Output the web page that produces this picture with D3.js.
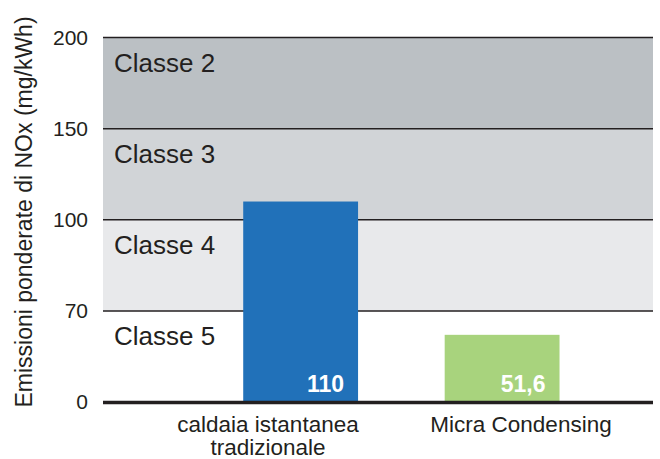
<!DOCTYPE html>
<html>
<head>
<meta charset="utf-8">
<script src="https://cdn.jsdelivr.net/npm/d3@7"></script>
<style>
  body { margin: 0; background: #fff; }
  svg { display: block; font-family: "Liberation Sans", Arial, sans-serif; }
</style>
</head>
<body>
<div id="chart"></div>
<script>
var categories = ["caldaia istantanea|tradizionale", "Micra Condensing"];
var values = [110, 51.6];
var valueLabels = ["110", "51,6"];
var yTicks = [0, 70, 100, 150, 200];
var classNames = ["Classe 5", "Classe 4", "Classe 3", "Classe 2"];
var classColors = ["#ffffff", "#e8e9eb", "#d1d4d7", "#bbc0c4"];
var barColors = ["#2171b9", "#a8d37d"];
var yTitle = "Emissioni ponderate di NOx (mg/kWh)";

var width = 660, height = 459;
var plotLeft = 103, plotRight = 653, plotBottom = 402, plotTop = 37.5;
var ink = "#231f20";

var svg = d3.select("#chart").append("svg")
    .attr("width", width)
    .attr("height", height);

// y ticks are evenly spaced, so the scale is piecewise
var y = d3.scaleLinear()
    .domain(yTicks)
    .range(yTicks.map(function(d, i) {
      return plotBottom - i * (plotBottom - plotTop) / (yTicks.length - 1);
    }));

var x = d3.scaleBand()
    .domain(categories)
    .range([plotLeft, plotRight])
    .paddingInner(0.43)
    .paddingOuter(0.58)
    .align(0.6);

var xLabel = d3.scalePoint()
    .domain(categories)
    .range([268, 521]);

// class bands
var bands = classNames.map(function(d, i) {
  return {name: d, lo: yTicks[i], hi: yTicks[i + 1], color: classColors[i]};
});

svg.selectAll("rect.band").data(bands).enter()
  .append("rect")
  .attr("class", "band")
  .attr("x", plotLeft)
  .attr("width", plotRight - plotLeft)
  .attr("y", function(d) { return y(d.hi); })
  .attr("height", function(d) { return y(d.lo) - y(d.hi); })
  .style("fill", function(d) { return d.color; });

svg.selectAll("text.cls").data(bands).enter()
  .append("text")
  .attr("class", "cls")
  .attr("x", 114)
  .attr("y", function(d) { return y(d.hi) + 34; })
  .style("font-size", "26px")
  .style("fill", ink)
  .text(function(d) { return d.name; });

// grid lines
svg.selectAll("line.grid").data(yTicks.slice(1)).enter()
  .append("line")
  .attr("class", "grid")
  .attr("x1", plotLeft)
  .attr("x2", plotRight)
  .attr("y1", function(d) { return y(d); })
  .attr("y2", function(d) { return y(d); })
  .style("stroke", ink)
  .style("stroke-width", 1.5);

// bars
svg.selectAll("rect.bar").data(values).enter()
  .append("rect")
  .attr("class", "bar")
  .attr("x", function(d, i) { return x(categories[i]); })
  .attr("width", x.bandwidth())
  .attr("y", function(d) { return y(d); })
  .attr("height", function(d) { return y(0) - y(d); })
  .style("fill", function(d, i) { return barColors[i]; });

svg.selectAll("text.val").data(valueLabels).enter()
  .append("text")
  .attr("class", "val")
  .attr("x", function(d, i) { return x(categories[i]) + x.bandwidth() - 14; })
  .attr("y", y(0) - 10)
  .attr("text-anchor", "end")
  .style("font-size", "23px")
  .style("font-weight", "bold")
  .style("fill", "#fff")
  .text(function(d) { return d; });

// baseline
svg.append("line")
  .attr("x1", plotLeft)
  .attr("x2", plotRight)
  .attr("y1", y(0) + 0.5)
  .attr("y2", y(0) + 0.5)
  .style("stroke", ink)
  .style("stroke-width", 3.5);

// y axis
var yAxis = svg.append("g")
  .attr("transform", "translate(" + plotLeft + ",0)")
  .call(d3.axisLeft(y).tickValues(yTicks).tickSize(0).tickPadding(15));
yAxis.select(".domain").remove();
yAxis.selectAll("text")
  .style("font-size", "21px")
  .style("font-family", "\"Liberation Sans\", Arial, sans-serif")
  .style("fill", ink);

svg.append("text")
  .attr("transform", "translate(32,212) rotate(-90)")
  .attr("text-anchor", "middle")
  .style("font-size", "23px")
  .style("fill", ink)
  .text(yTitle);

// category labels
var catText = svg.selectAll("text.cat").data(categories).enter()
  .append("text")
  .attr("class", "cat")
  .attr("text-anchor", "middle")
  .attr("x", function(d) { return xLabel(d); })
  .attr("y", 432)
  .style("font-size", "22.5px")
  .style("fill", ink);

catText.selectAll("tspan")
  .data(function(d) { return d.split("|"); })
  .enter()
  .append("tspan")
  .attr("x", function() { return xLabel(d3.select(this.parentNode).datum()); })
  .attr("dy", function(d, i) { return i ? 23 : 0; })
  .text(function(d) { return d; });
</script>
</body>
</html>
